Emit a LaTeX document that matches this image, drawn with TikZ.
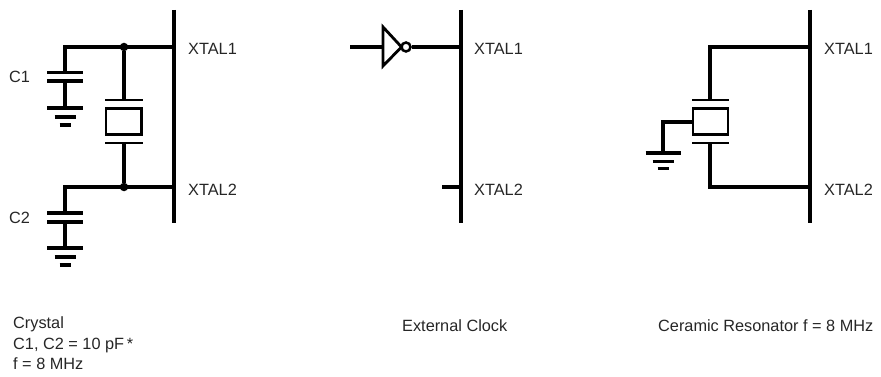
\documentclass[tikz,border=0pt]{standalone}
\usepackage{fontspec}
\setmainfont{Liberation Sans}
\begin{document}
\begin{tikzpicture}[x=1pt,y=-1pt,
  wire/.style={line width=3.4pt},
  pinbar/.style={line width=4pt},
  thin/.style={line width=2.8pt},
  lbl/.style={inner sep=0pt,anchor=base west,font=\fontsize{16.3}{20.5}\selectfont,text=black!85},
  dot/.style={circle,fill=black,inner sep=0pt,minimum size=8.5pt},
  gnd/.pic={\draw[wire] (-18,0) -- (18,0);
            \draw[wire] (-10.5,9) -- (10.5,9);
            \draw[wire] (-5.5,17) -- (5.5,17);}
]
\useasboundingbox (0,0) rectangle (881,377);

% ================= Crystal =================
\coordinate (bA1) at (173.5,10);
\coordinate (bA2) at (173.5,223);
\draw[pinbar] (bA1) -- (bA2);
\coordinate (pA1) at (173.5,47);
\coordinate (pA2) at (173.5,187);
\coordinate (cl1) at (65,47);
\coordinate (cl2) at (65,187);
\node[dot] (j1) at (124,47) {};
\node[dot] (j2) at (124,187) {};
\draw[wire,line join=miter] (pA1) -- (cl1) -- (65,72.7);
\draw[wire,line join=miter] (pA2) -- (cl2) -- (65,213);
% C1
\coordinate (c1t) at (65,72.7);
\coordinate (c1b) at (65,81);
\coordinate (g1) at (65,108);
\draw[wire] ([xshift=-18pt]c1t) -- ([xshift=18pt]c1t);
\draw[wire] ([xshift=-18pt]c1b) -- ([xshift=18pt]c1b);
\draw[wire] (c1b) -- (g1);
\pic at (g1) {gnd};
% C2
\coordinate (c2t) at (65,213);
\coordinate (c2b) at (65,222);
\coordinate (g2) at (65,248);
\draw[wire] ([xshift=-18pt]c2t) -- ([xshift=18pt]c2t);
\draw[wire] ([xshift=-18pt]c2b) -- ([xshift=18pt]c2b);
\draw[wire] (c2b) -- (g2);
\pic at (g2) {gnd};
% crystal element
\coordinate (xt) at (124,100);
\coordinate (xb) at (124,143);
\draw[wire] (j1) -- (xt);
\draw[wire] (j2) -- (xb);
\draw[thin] (105,100) -- (142.5,100);
\draw[thin] (105,143) -- (142.5,143);
\draw[thin] (106,108.5) rectangle (141.5,134.5);
\node[lbl] (c1lbl) at (9,83) {C1};
\node[lbl] (c2lbl) at (9,223) {C2};
\node[lbl] (xa1) at (188,55) {XTAL1};
\node[lbl] (xa2) at (188,195) {XTAL2};

% ================= External clock =================
\coordinate (bB1) at (461,10);
\coordinate (bB2) at (461,223);
\draw[pinbar] (bB1) -- (bB2);
\coordinate (pB1) at (461,47);
\coordinate (pB2) at (461,187);
\coordinate (inA) at (350,47);
\coordinate (inB) at (383,47);
\draw[wire] (inA) -- (inB);
\draw[thin,line join=miter] (383,27) -- (383,66) -- (401.5,47) -- cycle;
\node[circle,draw,line width=2.5pt,inner sep=0pt,minimum size=9pt] (bub) at (406,47) {};
\draw[wire] (bub.east) -- (pB1);
\coordinate (stub) at (442,187);
\draw[wire] (stub) -- (pB2);
\node[lbl] (xb1) at (474,55) {XTAL1};
\node[lbl] (xb2) at (474,195) {XTAL2};

% ================= Ceramic resonator =================
\coordinate (bC1) at (810,10);
\coordinate (bC2) at (810,223);
\draw[pinbar] (bC1) -- (bC2);
\coordinate (pC1) at (810,47);
\coordinate (pC2) at (810,187);
\coordinate (rl1) at (710,47);
\coordinate (rl2) at (710,187);
\coordinate (rt) at (710,100);
\coordinate (rb) at (710,143);
\draw[wire,line join=miter] (pC1) -- (rl1) -- (rt);
\draw[wire,line join=miter] (pC2) -- (rl2) -- (rb);
\draw[thin] (692,100) -- (729,100);
\draw[thin] (692,143) -- (729,143);
\draw[thin] (693,108.5) rectangle (728,134.5);
\coordinate (rg0) at (693,122);
\coordinate (rg1) at (663,122);
\coordinate (g3) at (663,153);
\draw[wire,line join=miter] (rg0) -- (rg1) -- (g3);
\draw[wire] (645.5,153) -- (680.5,153);
\draw[wire] (652.5,161.5) -- (673.5,161.5);
\draw[wire] (657.5,168.5) -- (668.5,168.5);
\node[lbl] (xc1) at (824,55) {XTAL1};
\node[lbl] (xc2) at (824,195) {XTAL2};

% ================= Captions =================
\node[lbl,align=left,anchor=north west] (capA) at (13,316.5) {Crystal\\C1, C2 = 10 pF\,*\\f = 8 MHz};
\node[lbl] (capB) at (402,331) {External Clock};
\node[lbl] (capC) at (658,331) {Ceramic Resonator f = 8 MHz};
\end{tikzpicture}
\end{document}
